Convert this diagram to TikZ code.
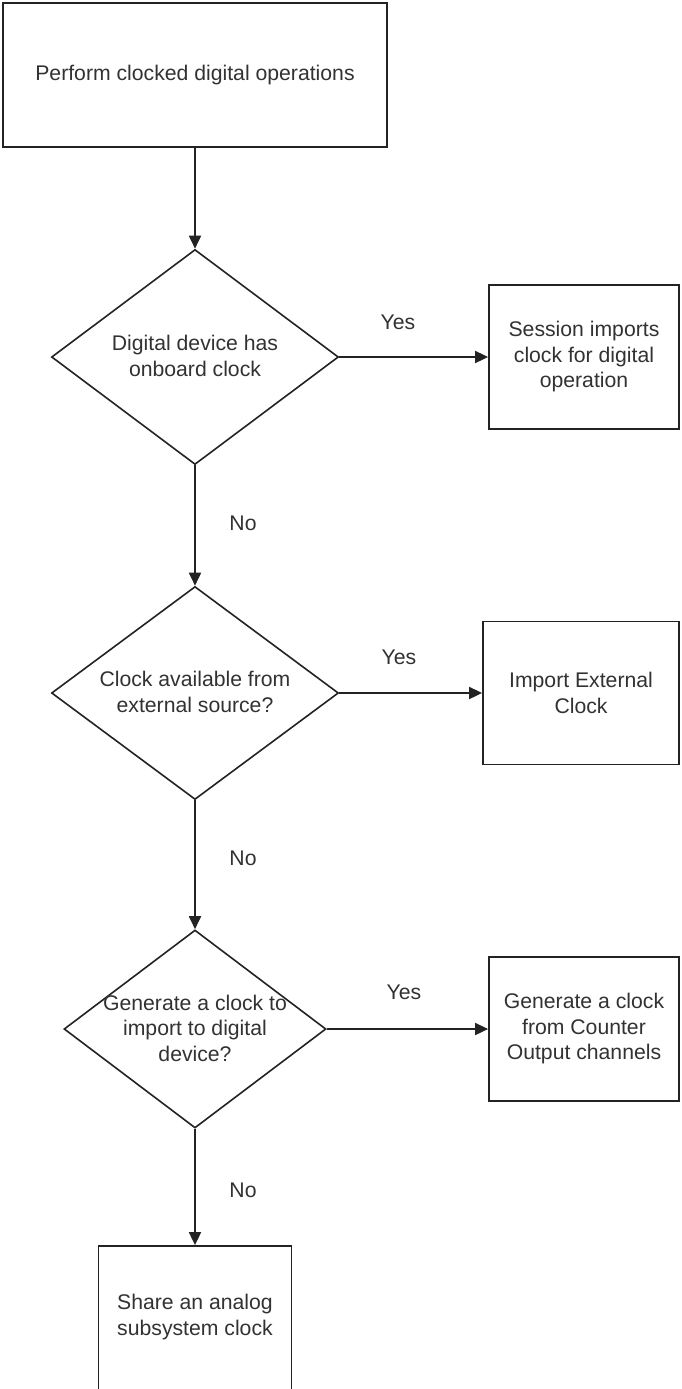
\documentclass[tikz,border=0pt]{standalone}
\usepackage{fontspec}
\setmainfont{Liberation Sans}
\usetikzlibrary{shapes.geometric,arrows.meta}
\definecolor{linecol}{RGB}{35,35,35}
\definecolor{textcol}{RGB}{50,50,50}
\begin{document}
\begin{tikzpicture}[x=1pt,y=-1pt,
  every node/.style={font=\fontsize{21.2}{25.5}\selectfont, text=textcol},
  boxnode/.style={draw=linecol, line width=1.8pt, rectangle, inner sep=0pt, align=center},
  decision/.style={draw=linecol, line width=1.6pt, diamond, inner sep=0pt, minimum width=#1},
  dtext/.style={align=center, inner sep=0pt},
  lbl/.style={inner sep=0pt},
  arr/.style={draw=linecol, line width=1.8pt, -{Triangle[length=13pt,width=12pt]}}]
\useasboundingbox (0,0) rectangle (682,1389);
\fill[white] (0,0) rectangle (682,1389);

\node[boxnode, minimum width=384pt, minimum height=144pt] (top) at (195,75) {Perform clocked digital operations};

\node[decision=287pt, minimum height=215pt] (d1) at (195,357) {};
\node[dtext] (d1t) at (195,356) {Digital device has\\onboard clock};
\node[boxnode, minimum width=190pt, minimum height=144pt] (b1) at (584,357) {Session imports\\clock for digital\\operation};

\node[decision=287pt, minimum height=213pt] (d2) at (195,693) {};
\node[dtext] (d2t) at (195,692) {Clock available from\\external source?};
\node[boxnode, minimum width=196pt, minimum height=143pt] (b2) at (581,693) {Import External\\Clock};

\node[decision=262pt, minimum height=198pt] (d3) at (195,1029) {};
\node[dtext] (d3t) at (195,1028) {Generate a clock to\\import to digital\\device?};
\node[boxnode, minimum width=190pt, minimum height=144pt] (b3) at (584,1029) {Generate a clock\\from Counter\\Output channels};

\node[boxnode, minimum width=193pt, minimum height=148pt] (b4) at (195,1320) {};
\node[dtext] (b4t) at (195,1317) {Share an analog\\subsystem clock};

\node[lbl] (y1) at (398,322) {Yes};
\node[lbl] (y2) at (399,657) {Yes};
\node[lbl] (y3) at (404,992) {Yes};
\node[lbl] (n1) at (243,523) {No};
\node[lbl] (n2) at (243,858) {No};
\node[lbl] (n3) at (243,1190) {No};

\draw[arr] (top.south) -- (d1.north);
\draw[arr] (d1.east) -- (b1.west);
\draw[arr] (d1.south) -- (d2.north);
\draw[arr] (d2.east) -- (b2.west);
\draw[arr] (d2.south) -- (d3.north);
\draw[arr] (d3.east) -- (b3.west);
\draw[arr] (d3.south) -- (b4.north);
\end{tikzpicture}
\end{document}
